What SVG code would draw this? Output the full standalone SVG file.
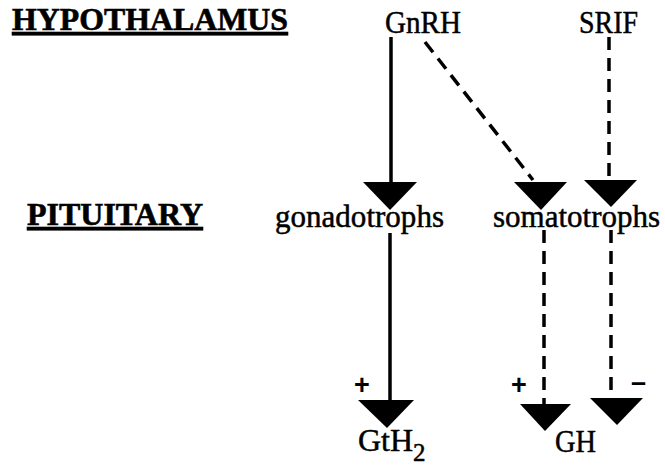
<svg xmlns="http://www.w3.org/2000/svg" width="665" height="465" viewBox="0 0 665 465">
<style>
.lbl{font-family:"Liberation Serif","Times New Roman",serif;font-weight:bold;font-size:32px;fill:#000;stroke:#000;stroke-width:0.6;text-decoration:underline}
.t{font-family:"Liberation Serif","Times New Roman",serif;font-size:32px;fill:#000;stroke:#000;stroke-width:0.5}
.sign{font-family:"Liberation Sans",Arial,sans-serif;font-weight:bold;font-size:27px;fill:#000}
.solid{stroke:#000;stroke-width:3.5;fill:none}
.dash{stroke:#000;stroke-width:3.5;fill:none;stroke-dasharray:13 8}
.head{fill:#000}
</style>
<rect width="665" height="465" fill="#fff"/>
<g id="level-hypothalamus"><text class="lbl" x="12" y="30" textLength="276" lengthAdjust="spacingAndGlyphs">HYPOTHALAMUS</text></g>
<g id="level-pituitary"><text class="lbl" x="27" y="225" textLength="176" lengthAdjust="spacingAndGlyphs">PITUITARY</text></g>
<g id="GnRH"><text class="t" x="385" y="33" textLength="76" lengthAdjust="spacingAndGlyphs">GnRH</text></g>
<g id="SRIF"><text class="t" x="579" y="33" textLength="59" lengthAdjust="spacingAndGlyphs">SRIF</text></g>
<g id="gonadotrophs"><text class="t" x="275" y="227" textLength="169" lengthAdjust="spacingAndGlyphs">gonadotrophs</text></g>
<g id="somatotrophs"><text class="t" x="493" y="227" textLength="167" lengthAdjust="spacingAndGlyphs">somatotrophs</text></g>
<g id="GtH2"><text class="t" x="358" y="451">GtH<tspan dy="10" font-size="25">2</tspan></text></g>
<g id="GH"><text class="t" x="555" y="452" textLength="41" lengthAdjust="spacingAndGlyphs">GH</text></g>
<g id="connectors">
<line class="solid" x1="391" y1="37" x2="391" y2="186"/>
<polygon class="head" points="363,182 417,182 390,210"/>
<line class="dash" x1="425" y1="42" x2="533" y2="180"/>
<polygon class="head" points="514,182 567,182 541,210"/>
<line class="dash" x1="609" y1="37" x2="609" y2="184"/>
<polygon class="head" points="584,180 637,180 611,207"/>
<line class="solid" x1="390" y1="233" x2="390" y2="402"/>
<polygon class="head" points="358,400 414,400 387,428"/>
<line class="dash" x1="544" y1="230" x2="544" y2="406"/>
<polygon class="head" points="520,404 571,404 545,431"/>
<line class="dash" x1="611" y1="230" x2="611" y2="393"/>
<polygon class="head" points="590,398 643,398 617,425"/>
<text class="sign" x="354" y="394">+</text>
<text class="sign" x="511" y="394">+</text>
<text class="sign" x="631" y="391">–</text>
</g>
</svg>
